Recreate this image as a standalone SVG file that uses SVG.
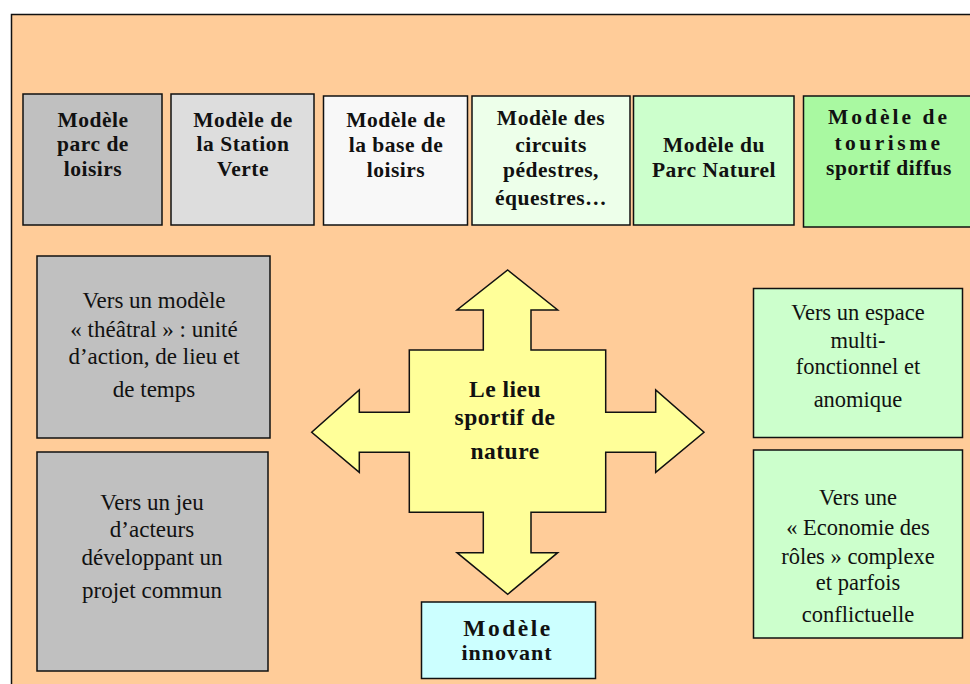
<svg xmlns="http://www.w3.org/2000/svg" width="970" height="684" viewBox="0 0 970 684">
<style>
.box{stroke:#111;stroke-width:1.5}
.tb{font-family:"Liberation Serif","Times New Roman",serif;font-weight:bold;font-size:21.5px;letter-spacing:0.5px;text-anchor:middle;fill:#111}
.tr{font-family:"Liberation Serif","Times New Roman",serif;font-size:23px;text-anchor:middle;fill:#111}
.tr2{font-family:"Liberation Serif","Times New Roman",serif;font-size:22.5px;text-anchor:middle;fill:#111}
</style>
<rect width="970" height="684" fill="#ffffff"/>
<rect id="frame" x="11.5" y="14.5" width="980" height="700" fill="#FFCC99" stroke="#111" stroke-width="1.5"/>

<g id="m1">
<rect class="box" x="23" y="94" width="139" height="131" fill="#C0C0C0"/>
<text class="tb" x="93" y="127">Modèle</text>
<text class="tb" x="93" y="151">parc de</text>
<text class="tb" x="93" y="176">loisirs</text>
</g>
<g id="m2">
<rect class="box" x="171" y="94" width="143" height="131" fill="#DDDDDD"/>
<text class="tb" x="243" y="127">Modèle de</text>
<text class="tb" x="243" y="151">la Station</text>
<text class="tb" x="243" y="176">Verte</text>
</g>
<g id="m3">
<rect class="box" x="323.5" y="96" width="144" height="129" fill="#F8F8F8"/>
<text class="tb" x="396" y="127">Modèle de</text>
<text class="tb" x="396" y="152">la base de</text>
<text class="tb" x="396" y="177">loisirs</text>
</g>
<g id="m4">
<rect class="box" x="472" y="96" width="158" height="129" fill="#EDFFEA"/>
<text class="tb" x="551" y="125">Modèle des</text>
<text class="tb" x="551" y="152">circuits</text>
<text class="tb" x="551" y="177">pédestres,</text>
<text class="tb" x="551" y="205">équestres…</text>
</g>
<g id="m5">
<rect class="box" x="633.5" y="96" width="160.5" height="129" fill="#CCFFCC"/>
<text class="tb" x="714" y="152">Modèle du</text>
<text class="tb" x="714" y="177">Parc Naturel</text>
</g>
<g id="m6">
<rect class="box" x="803.5" y="96" width="180" height="131" fill="#A9F9A1"/>
<text class="tb" x="889" y="124" style="letter-spacing:3px">Modèle de</text>
<text class="tb" x="889" y="150" style="letter-spacing:3.5px">tourisme</text>
<text class="tb" x="889" y="175">sportif diffus</text>
</g>

<g id="v1">
<rect class="box" x="37" y="256" width="233" height="182" fill="#C0C0C0"/>
<text class="tr" x="154" y="308">Vers un modèle</text>
<text class="tr" x="154" y="336.5">« théâtral » : unité</text>
<text class="tr" x="154" y="364">d’action, de lieu et</text>
<text class="tr" x="154" y="397">de temps</text>
</g>
<g id="v2">
<rect class="box" x="37" y="452" width="231" height="219" fill="#C0C0C0"/>
<text class="tr" x="152" y="510">Vers un jeu</text>
<text class="tr" x="152" y="537">d’acteurs</text>
<text class="tr" x="152" y="565">développant un</text>
<text class="tr" x="152" y="598">projet commun</text>
</g>
<g id="v3">
<rect class="box" x="753.5" y="288.5" width="209" height="149" fill="#CCFFCC"/>
<text class="tr2" x="858" y="320">Vers un espace</text>
<text class="tr2" x="858" y="347.5">multi-</text>
<text class="tr2" x="858" y="373.5">fonctionnel et</text>
<text class="tr2" x="858" y="406.5">anomique</text>
</g>
<g id="v4">
<rect class="box" x="753.5" y="450" width="209" height="188" fill="#CCFFCC"/>
<text class="tr2" x="858" y="505">Vers une</text>
<text class="tr2" x="858" y="535">« Economie des</text>
<text class="tr2" x="858" y="563.5">rôles » complexe</text>
<text class="tr2" x="858" y="590">et parfois</text>
<text class="tr2" x="858" y="621.5">conflictuelle</text>
</g>

<g id="center">
<path class="box" fill="#FFFF99" d="M507.7 270 L557.7 310 L531 310 L531 350 L605.7 350 L605.7 412.3 L655.7 412.3 L655.7 390 L704 432.3 L655.7 472.3 L655.7 452.3 L605.7 452.3 L605.7 512.3 L531 512.3 L531 552.7 L557.7 552.7 L507.7 594.3 L457 552.7 L483.3 552.7 L483.3 512.3 L409.3 512.3 L409.3 452.3 L359.3 452.3 L359.3 472.3 L311.7 432.3 L359.3 390 L359.3 412.3 L409.3 412.3 L409.3 350 L483.3 350 L483.3 310 L457 310 Z"/>
<text class="tb" x="505" y="397" style="font-size:23.5px">Le lieu</text>
<text class="tb" x="505" y="425" style="font-size:23.5px">sportif de</text>
<text class="tb" x="505" y="459" style="font-size:23.5px">nature</text>
</g>

<g id="innovant">
<rect class="box" x="421.5" y="602" width="174" height="76.5" fill="#CCFFFF"/>
<text class="tb" x="508" y="636" style="font-size:23.5px;letter-spacing:2.5px">Modèle</text>
<text class="tb" x="507" y="660" style="font-size:22px;letter-spacing:1px">innovant</text>
</g>

<g id="connectors"/>
</svg>
